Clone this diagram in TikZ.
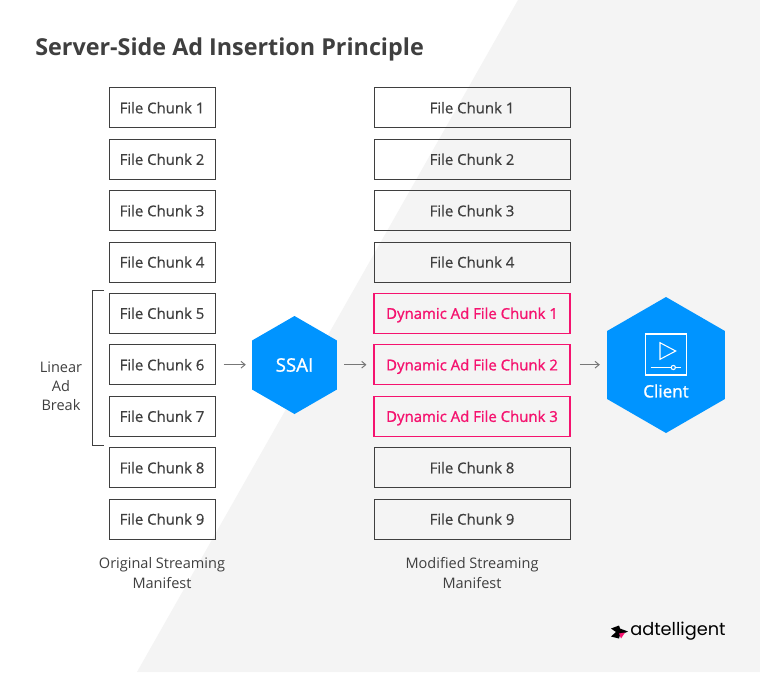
\documentclass[tikz,border=0pt]{standalone}
\usepackage{fontspec}
\setmainfont{Open Sans}
\newfontfamily\logofont{Poppins}
\newfontfamily\semifont[FakeBold=1.2]{Open Sans}
\newfontfamily\medfont[FakeBold=0.5]{Open Sans}
\usetikzlibrary{shapes.geometric,arrows.meta}
\definecolor{ink}{HTML}{3F3F3F}
\definecolor{bggrey}{HTML}{F4F4F4}
\definecolor{adpink}{HTML}{F5136F}
\definecolor{hexblue}{HTML}{0094FF}
\definecolor{arrowgrey}{HTML}{777777}
\tikzset{
  chunk/.style={draw=ink,line width=0.75pt,minimum height=30pt,anchor=center,inner sep=0pt,text=ink,text height=8.5pt,text depth=0pt,font=\medfont\fontsize{11.2}{14}\selectfont},
  leftchunk/.style={chunk,minimum width=79.5pt},
  rightchunk/.style={chunk,minimum width=147pt},
  adchunk/.style={rightchunk,draw=adpink,line width=0.8pt,text=adpink,font=\semifont\fontsize{11.2}{14}\selectfont},
  capt/.style={align=center,text=ink,font=\fontsize{10.9}{14.4}\selectfont},
  hex/.style={regular polygon,regular polygon sides=6,shape border rotate=30,fill=hexblue,inner sep=0pt,text=white},
  flow/.style={draw=arrowgrey,line width=0.75pt,-{Straight Barb[length=3pt,width=5pt]}},
  icon/.style={draw=white,line width=0.8pt}
}
\begin{document}
\begin{tikzpicture}[x=0.75pt,y=-0.75pt]
\useasboundingbox (0,0) rectangle (760,672);
\fill[white] (0,0) rectangle (760,672);
\fill[bggrey] (518,0) -- (760,0) -- (760,672) -- (137,672) -- cycle;
\node[anchor=west,inner sep=0pt,text=ink,font=\fontsize{17.5}{22}\selectfont\bfseries] (title) at (35,49) {Server-Side Ad Insertion Principle};
% left column
\node[leftchunk] (l1) at (162,107.7) {File Chunk 1};
\node[leftchunk] (l2) at (162,159.2) {File Chunk 2};
\node[leftchunk] (l3) at (162,210.6) {File Chunk 3};
\node[leftchunk] (l4) at (162,262) {File Chunk 4};
\node[leftchunk] (l5) at (162,313.2) {File Chunk 5};
\node[leftchunk] (l6) at (162,364.7) {File Chunk 6};
\node[leftchunk] (l7) at (162,416.2) {File Chunk 7};
\node[leftchunk] (l8) at (162,467.6) {File Chunk 8};
\node[leftchunk] (l9) at (162,519) {File Chunk 9};
% right column
\node[rightchunk] (r1) at (472,107.7) {File Chunk 1};
\node[rightchunk] (r2) at (472,159.2) {File Chunk 2};
\node[rightchunk] (r3) at (472,210.6) {File Chunk 3};
\node[rightchunk] (r4) at (472,262) {File Chunk 4};
\node[adchunk] (r5) at (472,313.2) {Dynamic Ad File Chunk 1};
\node[adchunk] (r6) at (472,364.7) {Dynamic Ad File Chunk 2};
\node[adchunk] (r7) at (472,416.2) {Dynamic Ad File Chunk 3};
\node[rightchunk] (r8) at (472,467.6) {File Chunk 8};
\node[rightchunk] (r9) at (472,519) {File Chunk 9};
% captions
\node[capt] (capl) at (162,573) {Original Streaming\\Manifest};
\node[capt] (capr) at (472,573) {Modified Streaming\\Manifest};
\node[capt] (brk) at (61,386.5) {Linear\\Ad\\Break};
% bracket
\draw[draw=ink,line width=0.75pt] (104,290) -- (92.5,290) -- (92.5,445) -- (104,445);
% hexagons
\node[hex,minimum size=73.5pt,font=\semifont\fontsize{14}{16}\selectfont] (ssai) at (294.5,365) {SSAI};
\node[hex,minimum size=102pt] (client) at (666,365) {};
\node[text=white,font=\semifont\fontsize{12.8}{15}\selectfont] (clientlabel) at (666,391) {Client};
% icon
\draw[icon] (645.5,334) rectangle (686.5,375);
\draw[icon,line join=miter] (660,342.7) -- (675.7,351) -- (660,359.3) -- cycle;
\draw[icon] (650.7,367.5) -- (671.2,367.5) (675.4,367.5) -- (681,367.5);
\draw[icon] (673.3,367.5) circle[radius=2.1];
% connectors
\draw[flow,shorten <=6pt,shorten >=4.5pt] (l6.east) -- (ssai.west|-l6.east);
\draw[flow,shorten <=5.25pt,shorten >=5.25pt] (ssai.east|-r6.west) -- (r6.west);
\draw[flow,shorten <=6.75pt,shorten >=5.25pt] (r6.east) -- (client.west|-r6.east);
% logo
\fill[black] (611,628.5) -- (619,625.5) -- (620,628.5) -- (628,631.5) -- (620,635) -- (619,638.5) -- (611,636.5) -- (616,632) -- cycle;
\fill[adpink] (619,633.5) -- (625,632.5) -- (621,638.5) -- cycle;
\node[anchor=west,inner sep=0pt,text=black,font=\logofont\fontsize{13.3}{16}\selectfont] (logo) at (630,631) {adtelligent};
\end{tikzpicture}
\end{document}
